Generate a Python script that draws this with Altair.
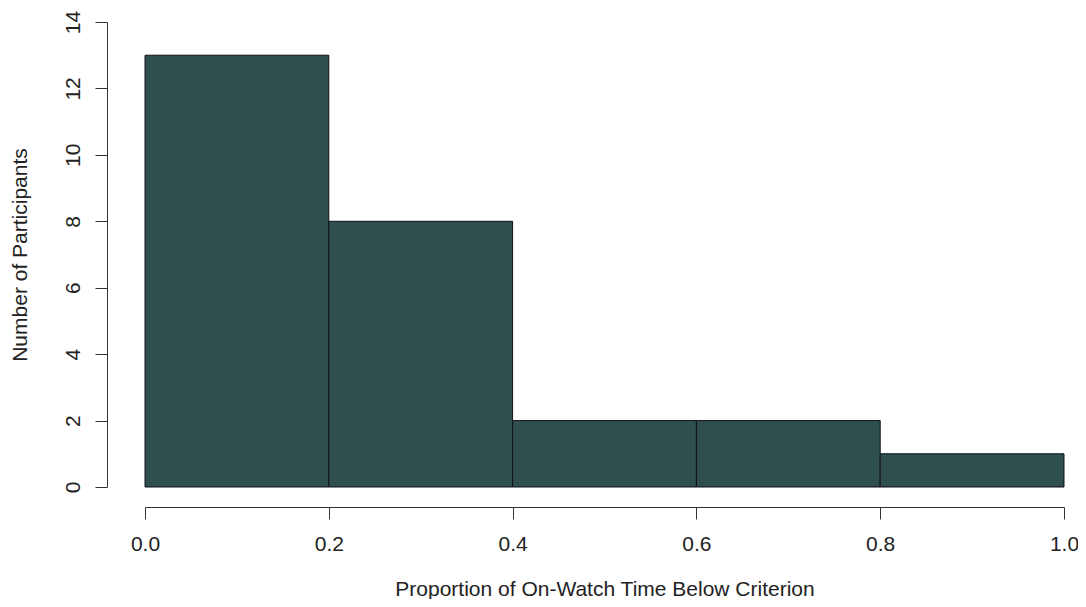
import altair as alt
import pandas as pd

bin_start = [0.0, 0.2, 0.4, 0.6, 0.8]
bin_end = [0.2, 0.4, 0.6, 0.8, 1.0]
counts = [13, 8, 2, 2, 1]

df = pd.DataFrame({"start": bin_start, "end": bin_end, "count": counts})

FONT = "Liberation Sans"
TXT = "#222222"

chart = alt.Chart(df).mark_rect(
    fill="#2F4F4F", stroke="#111111", strokeWidth=1
).encode(
    x=alt.X("start:Q", scale=alt.Scale(domain=[0, 1], nice=False, zero=False),
            axis=alt.Axis(values=[0, 0.2, 0.4, 0.6, 0.8, 1.0], format=".1f",
                          title="Proportion of On-Watch Time Below Criterion",
                          offset=20, tickSize=12, labelPadding=14,
                          labelFlush=False, titlePadding=24)),
    x2="end:Q",
    y=alt.Y("count:Q", scale=alt.Scale(domain=[0, 14], nice=False),
            axis=alt.Axis(values=list(range(0, 15, 2)),
                          title="Number of Participants",
                          offset=38, tickSize=12, labelAngle=-90,
                          labelAlign="center", labelBaseline="bottom",
                          labelFlush=False,
                          labelPadding=12, titlePadding=32)),
    y2=alt.datum(0),
).properties(
    width=919, height=465,
    autosize=alt.AutoSizeParams(type="none"),
    padding={"left": 137, "top": 14, "right": 14, "bottom": 112},
).configure_view(stroke=None).configure_axis(
    grid=False, domainColor="#333333", tickColor="#333333",
    labelFont=FONT, titleFont=FONT, labelFontSize=21, titleFontSize=21,
    labelColor=TXT, titleColor=TXT, titleFontWeight="normal",
    domainWidth=1, tickWidth=1,
)

chart.save("out.html", embed_options={"renderer": "svg", "actions": False})
